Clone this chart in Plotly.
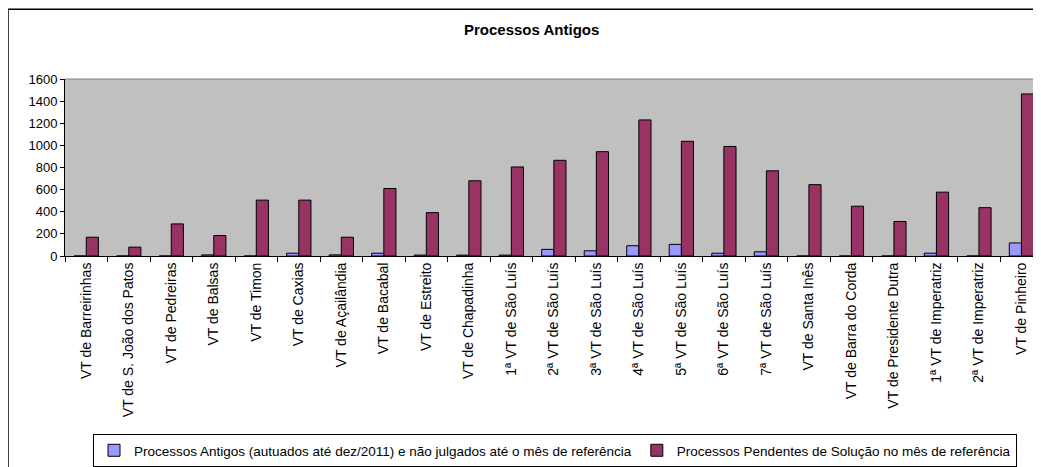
import plotly.graph_objects as go

# Dados
varas = [
    "VT de Barreirinhas", "VT de S. João dos Patos", "VT de Pedreiras", "VT de Balsas",
    "VT de Timon", "VT de Caxias", "VT de Açailândia", "VT de Bacabal", "VT de Estreito",
    "VT de Chapadinha", "1ª VT de São Luís", "2ª VT de São Luís", "3ª VT de São Luís",
    "4ª VT de São Luís", "5ª VT de São Luís", "6ª VT de São Luís", "7ª VT de São Luís",
    "VT de Santa Inês", "VT de Barra do Corda", "VT de Presidente Dutra",
    "1ª VT de Imperatriz", "2ª VT de Imperatriz", "VT de Pinheiro",
]
antigos = [0, 0, 0, 10, 0, 25, 10, 25, 8, 8, 8, 60, 47, 93, 105, 25, 38, 0, 0, 0, 25, 0, 118]
pendentes = [170, 80, 290, 185, 505, 505, 170, 610, 392, 680, 805, 865, 943,
             1230, 1037, 990, 770, 645, 450, 312, 577, 437, 1465]

NOME_ANTIGOS = "Processos Antigos (autuados até dez/2011) e não julgados até o mês de referência"
NOME_PENDENTES = "Processos Pendentes de Solução no mês de referência"

COR_ANTIGOS = "#9999FF"
COR_PENDENTES = "#993366"
FONTE = "Arial, Liberation Sans, sans-serif"

fig = go.Figure()
fig.add_trace(go.Bar(
    name=NOME_ANTIGOS, x=varas, y=antigos,
    marker_color=COR_ANTIGOS, marker_line_color="black", marker_line_width=1,
))
fig.add_trace(go.Bar(
    name=NOME_PENDENTES, x=varas, y=pendentes,
    marker_color=COR_PENDENTES, marker_line_color="black", marker_line_width=1,
))

fig.update_layout(
    width=1033, height=459,
    margin=dict(l=57, r=0, t=71, b=208),
    paper_bgcolor="white",
    plot_bgcolor="#C0C0C0",
    barmode="group",
    bargap=0.4286,
    bargroupgap=0,
    font=dict(family=FONTE, size=13, color="black"),
    showlegend=True,
    legend=dict(
        orientation="h", x=0.0287, y=-1.006, xanchor="left", yanchor="top",
        bordercolor="black", borderwidth=1, bgcolor="white",
        font=dict(size=13.5), itemwidth=30, tracegroupgap=0,
    ),
    annotations=[dict(
        text="<b>Processos Antigos</b>", x=0.4775, y=1.278, xref="paper", yref="paper",
        showarrow=False, font=dict(size=15), xanchor="center", yanchor="middle",
    )],
    shapes=[
        # borda externa do gráfico (cortada à direita e embaixo)
        dict(type="rect", xref="paper", yref="paper", x0=-0.0584, x1=1.05, y0=-1.2, y1=1.394,
             line=dict(color="black", width=1.5), layer="below"),
        # borda superior da área de plotagem
        dict(type="line", xref="paper", yref="paper", x0=0, x1=1, y0=1, y1=1,
             line=dict(color="#808080", width=1)),
    ],
)

fig.update_xaxes(
    range=[-0.5, 22.46],
    tickangle=-90,
    tickson="boundaries",
    ticks="outside", ticklen=5, tickcolor="black",
    showline=True, linecolor="black", linewidth=1,
    showgrid=False,
    tickfont=dict(size=14),
)
fig.update_yaxes(
    range=[0, 1600], dtick=200, tickformat="d",
    ticks="outside", ticklen=4, tickcolor="black",
    showline=True, linecolor="black", linewidth=1,
    showgrid=False, zeroline=False,
    tickfont=dict(size=13),
)

fig.write_html("out.html")
